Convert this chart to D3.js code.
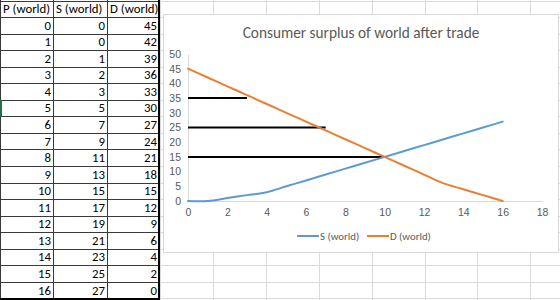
<!DOCTYPE html>
<html lang="en">
<head>
    <meta charset="UTF-8">
    <title>Consumer surplus of world after trade</title>
    <script src="https://cdn.jsdelivr.net/npm/d3@7/dist/d3.min.js"></script>
    <style>
        body { margin: 0; background: #fff; }
        svg { display: block; font-family: Calibri, Carlito, Lato, sans-serif; }
        .cell { font-size: 12.8px; fill: #000; }
        .axis text { font-size: 10.5px; fill: #595959; }
        .axis path { stroke: #d9d9d9; }
        .legend text { font-size: 10.8px; fill: #595959; }
    </style>
</head>
<body>
    <svg width=560 height=300></svg>
    <script>
        // table / chart data
        var headers = ['P (world)', 'S (world)', 'D (world)'],
            price = [0, 1, 2, 3, 4, 5, 6, 7, 8, 9, 10, 11, 12, 13, 14, 15, 16],
            supply = [0, 0, 1, 2, 3, 5, 7, 9, 11, 13, 15, 17, 19, 21, 23, 25, 27],
            demand = [45, 42, 39, 36, 33, 30, 27, 24, 21, 18, 15, 12, 9, 6, 4, 2, 0],
            // horizontal price lines: level and where they stop on x
            lineLevels = [35, 25, 15],
            lineEnds = [3, 7, 10],
            xTicks = [0, 2, 4, 6, 8, 10, 12, 14, 16, 18],
            yTicks = [0, 5, 10, 15, 20, 25, 30, 35, 40, 45, 50];

        var svg = d3.select('svg'),
            rowH = 16.55,
            rowTop = 0.5,
            colEdges = [0.5, 53.5, 107.5, 159.5],
            sheetCols = d3.range(8).map(function(i) { return 160 + i * 52.9; });

        // spreadsheet grid on the right side
        var grid = svg.append('g').attr('stroke', '#dadada').attr('stroke-width', 1);
        d3.range(19).forEach(function(i) {
            var yy = Math.round(rowTop + i * rowH) + 0.5;
            grid.append('line').attr('x1', 160).attr('x2', 560).attr('y1', yy).attr('y2', yy);
        });
        sheetCols.forEach(function(cx) {
            var xx = Math.round(cx) + 0.5;
            grid.append('line').attr('x1', xx).attr('x2', xx).attr('y1', 0).attr('y2', 300);
        });

        // table
        var table = svg.append('g');
        var rows = [headers].concat(price.map(function(p, i) { return [p, supply[i], demand[i]]; }));
        rows.forEach(function(r, i) {
            var top = rowTop + i * rowH;
            r.forEach(function(v, j) {
                var isHead = i === 0;
                table.append('text')
                    .attr('class', 'cell')
                    .attr('x', isHead ? colEdges[j] + 2.5 : colEdges[j + 1] - 2.5)
                    .attr('y', top + rowH / 2 + 4.4)
                    .attr('text-anchor', isHead ? 'start' : 'end')
                    .text(v);
            });
        });
        var borders = table.append('g').attr('stroke', '#3a3a3a').attr('stroke-width', 1);
        d3.range(19).forEach(function(i) {
            var yy = Math.round(rowTop + i * rowH) + 0.5;
            borders.append('line').attr('x1', 0).attr('x2', 160).attr('y1', yy).attr('y2', yy);
        });
        colEdges.slice(0, 3).forEach(function(cx) {
            borders.append('line').attr('x1', cx).attr('x2', cx).attr('y1', 0).attr('y2', 300);
        });
        table.append('line')
            .attr('x1', 159).attr('x2', 159).attr('y1', 0).attr('y2', 300)
            .attr('stroke', '#000').attr('stroke-width', 2);
        table.append('line')
            .attr('x1', 0).attr('x2', 160).attr('y1', 299).attr('y2', 299)
            .attr('stroke', '#000').attr('stroke-width', 2);
        // selected-row marker
        table.append('rect')
            .attr('x', 0).attr('y', rowTop + 6 * rowH).attr('width', 2).attr('height', rowH)
            .attr('fill', '#217346');

        // chart box
        var box = { x: 163.5, y: 14.5, w: 395, h: 238 };
        svg.append('rect')
            .attr('x', box.x).attr('y', box.y).attr('width', box.w).attr('height', box.h)
            .attr('fill', '#fff').attr('stroke', '#d9d9d9');

        svg.append('text')
            .attr('x', 361).attr('y', 38)
            .attr('text-anchor', 'middle')
            .attr('font-size', '15.3px')
            .attr('fill', '#595959')
            .text('Consumer surplus of world after trade');

        var xScale = d3.scaleLinear().domain([0, 18]).range([188, 542]),
            yScale = d3.scaleLinear().domain([0, 50]).range([201, 54]);

        svg.append('g')
            .attr('class', 'axis')
            .attr('transform', 'translate(' + [0, yScale(0)] + ')')
            .call(d3.axisBottom(xScale).tickValues(xTicks).tickSize(0).tickPadding(8))
            .call(function(g) { g.select('.domain').attr('stroke', '#d9d9d9'); });

        svg.append('g')
            .attr('class', 'axis')
            .attr('transform', 'translate(' + [xScale(0), 0] + ')')
            .call(d3.axisLeft(yScale).tickValues(yTicks).tickSize(0).tickPadding(7))
            .call(function(g) { g.select('.domain').attr('stroke', '#d9d9d9'); });

        // price lines
        lineLevels.forEach(function(lv, i) {
            svg.append('path')
                .datum([[0, lv], [lineEnds[i], lv]])
                .attr('d', d3.line().x(function(d) { return xScale(d[0]); }).y(function(d) { return yScale(d[1]); }))
                .attr('stroke', '#000').attr('stroke-width', 2).attr('fill', 'none');
        });

        var lineG = function(ys) {
            return d3.line()
                .curve(d3.curveCatmullRom.alpha(0.5))
                .x(function(d, i) { return xScale(price[i]); })
                .y(function(d) { return yScale(d); })(ys);
        };

        svg.append('path').attr('d', lineG(supply))
            .attr('fill', 'none').attr('stroke', '#5b9bd5').attr('stroke-width', 2).attr('stroke-linecap', 'round');
        svg.append('path').attr('d', lineG(demand))
            .attr('fill', 'none').attr('stroke', '#ed7d31').attr('stroke-width', 2).attr('stroke-linecap', 'round');

        // legend
        var legend = svg.append('g').attr('class', 'legend');
        [['S (world)', '#5b9bd5', 297], ['D (world)', '#ed7d31', 367]].forEach(function(it) {
            legend.append('line')
                .attr('x1', it[2]).attr('x2', it[2] + 22).attr('y1', 236).attr('y2', 236)
                .attr('stroke', it[1]).attr('stroke-width', 2);
            legend.append('text')
                .attr('x', it[2] + 23).attr('y', 239.8)
                .text(it[0]);
        });
    </script>
</body>
</html>
